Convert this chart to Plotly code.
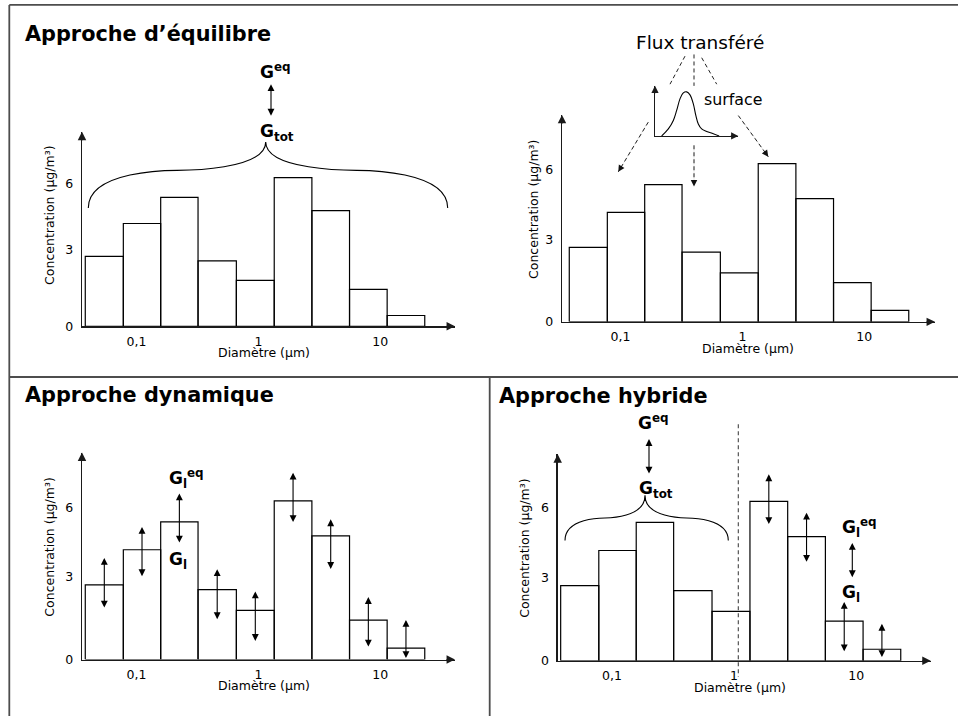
import numpy as np
import plotly.graph_objects as go

W, H = 958, 723

# ---------------- data ----------------
bin_edges_um = [0.038, 0.078, 0.158, 0.32, 0.66, 1.35, 2.75, 5.6, 11.4, 23.2]
concentration = [2.92, 4.29, 5.38, 2.73, 1.92, 6.2, 4.83, 1.54, 0.45]
x_tick_vals = [0.1, 1, 10]
x_tick_text = ["0,1", "1", "10"]
y_tick_vals = [0, 3.22, 5.95]
y_tick_text = ["0", "3", "6"]

# dynamic approach: G_l <-> G_l^eq arrows, per bin (lower / upper end, µg/m3)
dyn_lo = [1.97, 3.20, 4.51, 1.52, 0.67, 5.31, 3.48, 0.45, 0.00]
dyn_hi = [3.97, 5.18, 6.49, 3.53, 2.66, 7.30, 5.48, 2.44, 1.55]
# hybrid approach: dynamic bins (coarse particles)
hyb_bins = [5, 6, 7, 8]
hyb_lo = [5.26, 3.79, 0.31, 0.09]
hyb_hi = [7.25, 5.76, 2.29, 1.44]

# inset: surface distribution (arbitrary units)
inset_x = [0.8, 1.6, 2.2, 2.6, 3.0, 3.4, 3.8, 4.2, 4.6, 4.9, 5.2, 5.6, 6.2, 7.0, 7.7]
inset_y = [0.0, 0.14, 0.31, 0.51, 0.74, 0.86, 0.88, 0.82, 0.64, 0.41, 0.24, 0.14, 0.09, 0.045, 0.0]

FONT = "DejaVu Sans"


def PX(x):
    return x / W


def PY(y):
    return 1 - y / H


panels = [
    dict(x0=82, x1=455, yb=329.5, yt=133, p1=258.35, dec=121.87, ymax=8.12),
    dict(x0=562, x1=935, yb=325, yt=116, p1=742.35, dec=121.87, ymax=8.11),
    dict(x0=82, x1=455, yb=666, yt=457, p1=258.35, dec=121.87, ymax=8.085),
    dict(x0=557.7, x1=930.7, yb=667.3, yt=458.7, p1=734.05, dec=122.08, ymax=8.03),
]

fig = go.Figure()
layout = dict(
    width=W, height=H, margin=dict(l=0, r=0, t=0, b=0),
    paper_bgcolor="white", plot_bgcolor="white", showlegend=False,
    font=dict(family=FONT, color="black"),
)
annotations = []
shapes = []

AX_COL = "#1a1a1a"

# bars outline path
bx, by = [], []
for i, v in enumerate(concentration):
    e0, e1 = bin_edges_um[i], bin_edges_um[i + 1]
    bx += [e0, e0, e1, e1, e0, None]
    by += [0, v, v, 0, 0, None]

for k, p in enumerate(panels, start=1):
    xs = "" if k == 1 else str(k)
    lo = (p["x0"] - p["p1"]) / p["dec"]
    hi = (p["x1"] - p["p1"]) / p["dec"]
    layout["xaxis" + xs] = dict(
        type="log", range=[lo, hi], domain=[PX(p["x0"]), PX(p["x1"])],
        anchor="y" + xs, showline=True, linecolor=AX_COL, linewidth=1.3,
        showgrid=False, zeroline=False, tickmode="array",
        tickvals=x_tick_vals, ticktext=x_tick_text, ticks="",
        tickfont=dict(size=12.5, family=FONT, color="black"),
        ticklabelstandoff=3, fixedrange=True,
    )
    layout["yaxis" + xs] = dict(
        range=[0, p["ymax"]], domain=[PY(p["yb"]), PY(p["yt"])],
        anchor="x" + xs, showline=True, linecolor=AX_COL, linewidth=1.3,
        showgrid=False, zeroline=False, tickmode="array",
        tickvals=y_tick_vals, ticktext=y_tick_text, ticks="",
        tickfont=dict(size=12.5, family=FONT, color="black"),
        ticklabelstandoff=5, fixedrange=True,
    )
    fig.add_trace(go.Scatter(
        x=bx, y=by, xaxis="x" + xs, yaxis="y" + xs, mode="lines",
        line=dict(color="black", width=1.2), hoverinfo="skip",
    ))
    # axis arrowheads
    annotations.append(dict(
        xref="paper", yref="paper", x=PX(p["x1"]), y=PY(p["yb"]), ax=-10, ay=0,
        text="", showarrow=True, arrowhead=2, arrowsize=1.3, arrowwidth=1.3,
        arrowcolor=AX_COL,
    ))
    annotations.append(dict(
        xref="paper", yref="paper", x=PX(p["x0"]), y=PY(p["yt"]), ax=0, ay=10,
        text="", showarrow=True, arrowhead=2, arrowsize=1.3, arrowwidth=1.3,
        arrowcolor=AX_COL,
    ))

# axis titles (pixel centres)
xt_pos = [(263.7, 355.5), (747.5, 351.7), (264.2, 692.7), (739.5, 694)]
yt_pos = [(49.5, 217.5), (533.3, 211.7), (49.5, 552.5), (525, 554.2)]
for (xx, yy) in xt_pos:
    annotations.append(dict(xref="paper", yref="paper", x=PX(xx), y=PY(yy),
                            text="Diamètre (µm)", showarrow=False,
                            font=dict(size=12.5, family=FONT, color="black"),
                            xanchor="center", yanchor="middle"))
for (xx, yy) in yt_pos:
    annotations.append(dict(xref="paper", yref="paper", x=PX(xx), y=PY(yy),
                            text="Concentration (µg/m³)", showarrow=False, textangle=-90,
                            font=dict(size=12.5, family=FONT, color="black"),
                            xanchor="center", yanchor="middle"))

# panel titles
for (txt, xx, yy) in [("Approche d’équilibre", 23, 34.2),
                      ("Approche dynamique", 23.3, 398.8),
                      ("Approche hybride", 497.3, 400.3)]:
    annotations.append(dict(xref="paper", yref="paper", x=PX(xx), y=PY(yy),
                            text="<b>%s</b>" % txt, showarrow=False,
                            font=dict(size=20.8, family=FONT, color="black"),
                            xanchor="left", yanchor="middle"))

# G labels
GF = dict(size=17, family=FONT, color="black")
glabels = [
    ("<b>G<sup>eq</sup></b>", 258, 72.1),
    ("<b>G<sub>tot</sub></b>", 258, 133.5),
    ("<b>G<sub>l</sub><sup>eq</sup></b>", 166.7, 482.8),
    ("<b>G<sub>l</sub></b>", 166.7, 565.7),
    ("<b>G<sup>eq</sup></b>", 636, 425.8),
    ("<b>G<sub>tot</sub></b>", 636.7, 494.3),
    ("<b>G<sub>l</sub><sup>eq</sup></b>", 840, 532.8),
    ("<b>G<sub>l</sub></b>", 840, 599.3),
]
for (txt, xx, yy) in glabels:
    annotations.append(dict(xref="paper", yref="paper", x=PX(xx), y=PY(yy),
                            text=txt, showarrow=False, font=GF,
                            xanchor="left", yanchor="middle"))


def dbl_arrow_px(x, ytop, ybot):
    annotations.append(dict(
        xref="paper", yref="paper", x=PX(x), y=PY(ytop), ax=0, ay=ybot - ytop,
        text="", showarrow=True, arrowhead=2, startarrowhead=2, arrowside="end+start",
        arrowsize=1.25, startarrowsize=1.25, arrowwidth=1.1, arrowcolor="black",
    ))


dbl_arrow_px(271, 85, 118)
dbl_arrow_px(649, 443.3, 479.3)
dbl_arrow_px(852.3, 548.3, 584)


def centre(i):
    return np.log10(np.sqrt(bin_edges_um[i] * bin_edges_um[i + 1]))


# per-bin double arrows (dynamic panel = 3, hybrid panel = 4)
for i in range(len(concentration)):
    annotations.append(dict(
        xref="x3", yref="y3", axref="x3", ayref="y3",
        x=centre(i), y=dyn_hi[i], ax=centre(i), ay=dyn_lo[i],
        text="", showarrow=True, arrowhead=2, startarrowhead=2, arrowside="end+start",
        arrowsize=1.25, startarrowsize=1.25, arrowwidth=1.1, arrowcolor="black",
    ))
for j, i in enumerate(hyb_bins):
    annotations.append(dict(
        xref="x4", yref="y4", axref="x4", ayref="y4",
        x=centre(i), y=hyb_hi[j], ax=centre(i), ay=hyb_lo[j],
        text="", showarrow=True, arrowhead=2, startarrowhead=2, arrowside="end+start",
        arrowsize=1.25, startarrowsize=1.25, arrowwidth=1.1, arrowcolor="black",
    ))


# braces
def brace(x0, x1, xt, ye, ym, yt):
    xq = (x0 + xt) / 2
    xq2 = (xt + x1) / 2
    L1 = xq - x0
    d1 = xt - xq
    d2 = xq2 - xt
    L2 = x1 - xq2
    pts = [
        ("M", [(x0, ye)]),
        ("C", [(x0, ym), (x0 + 0.92 * L1, ym), (xq, ym)]),
        ("C", [(xq + 0.08 * d1, ym), (xt, ym), (xt, yt)]),
        ("C", [(xt, ym), (xq2 - 0.08 * d2, ym), (xq2, ym)]),
        ("C", [(x1 - 0.92 * L2, ym), (x1, ym), (x1, ye)]),
    ]
    s = ""
    for cmd, pl in pts:
        s += cmd + " " + " ".join("%.5f,%.5f" % (PX(a), PY(b)) for a, b in pl) + " "
    return s


for args in [(88.3, 447.7, 265.7, 210, 172, 143.3), (565, 728.3, 645, 545.7, 523, 500)]:
    shapes.append(dict(type="path", xref="paper", yref="paper", path=brace(*args),
                       line=dict(color="black", width=1.1)))

# frame
FR = dict(color="#4d4d4d", width=1.8)
for (xa, ya, xb, yb) in [(9.3, 5, 958, 5), (9.3, 5, 9.3, 723), (9.3, 380.7, 958, 380.7),
                         (489.7, 380.7, 489.7, 723)]:
    shapes.append(dict(type="line", xref="paper", yref="paper", x0=PX(xa), y0=PY(ya),
                       x1=PX(xb), y1=PY(yb), line=FR))

# hybrid separation dashed line
shapes.append(dict(type="line", xref="paper", yref="paper", x0=PX(738.3), y0=PY(428.3),
                   x1=PX(738.3), y1=PY(683.3), line=dict(color="#444", width=1.1, dash="4px,3px")))

# panel 2: flux transfer schematic
annotations.append(dict(xref="paper", yref="paper", x=PX(699.7), y=PY(43), text="Flux transféré",
                        showarrow=False, font=dict(size=18.5, family=FONT, color="black"),
                        xanchor="center", yanchor="middle"))
annotations.append(dict(xref="paper", yref="paper", x=PX(732.5), y=PY(100), text="surface",
                        showarrow=False, font=dict(size=15.8, family=FONT, color="black"),
                        xanchor="center", yanchor="middle"))
DL = dict(color="#222", width=1.0, dash="4px,3px")
for (xa, ya, xb, yb) in [(685, 56.7, 670, 85), (694, 55, 694, 86.7), (701.7, 58.3, 716.7, 85)]:
    shapes.append(dict(type="line", xref="paper", yref="paper", x0=PX(xa), y0=PY(ya),
                       x1=PX(xb), y1=PY(yb), line=DL))
for (xa, ya, xb, yb) in [(648.3, 123.3, 618.3, 173.5), (694, 146.7, 694, 188.3),
                         (738.3, 116.7, 768.3, 158.3)]:
    shapes.append(dict(type="line", xref="paper", yref="paper", x0=PX(xa), y0=PY(ya),
                       x1=PX(xb), y1=PY(yb), line=DL))
    annotations.append(dict(xref="paper", yref="paper", x=PX(xb), y=PY(yb), ax=xa - xb, ay=ya - yb,
                            text="", showarrow=True, arrowhead=2, arrowsize=13, arrowwidth=0.1,
                            arrowcolor="#111"))

# inset axes
layout["xaxis5"] = dict(range=[0, 10], domain=[PX(655), PX(738.3)], anchor="y5",
                        showline=True, linecolor=AX_COL, linewidth=1.2, showgrid=False,
                        zeroline=False, showticklabels=False, ticks="", fixedrange=True)
layout["yaxis5"] = dict(range=[0, 1], domain=[PY(137.3), PY(86.7)], anchor="x5",
                        showline=True, linecolor=AX_COL, linewidth=1.2, showgrid=False,
                        zeroline=False, showticklabels=False, ticks="", fixedrange=True)
fig.add_trace(go.Scatter(x=inset_x, y=inset_y, xaxis="x5", yaxis="y5", mode="lines",
                         line=dict(color="black", width=1.1, shape="spline"), hoverinfo="skip"))
annotations.append(dict(xref="paper", yref="paper", x=PX(738.3), y=PY(137.3), ax=-9, ay=0,
                        text="", showarrow=True, arrowhead=2, arrowsize=1.2, arrowwidth=1.2,
                        arrowcolor=AX_COL))
annotations.append(dict(xref="paper", yref="paper", x=PX(655), y=PY(86.7), ax=0, ay=9,
                        text="", showarrow=True, arrowhead=2, arrowsize=1.2, arrowwidth=1.2,
                        arrowcolor=AX_COL))

layout["annotations"] = annotations
layout["shapes"] = shapes
fig.update_layout(**layout)
fig.write_html(
    "out.html",
    config={"displayModeBar": False, "staticPlot": True},
    post_script="document.body.style.margin='0';document.body.style.padding='0';"
                "document.body.style.overflow='hidden';",
)
